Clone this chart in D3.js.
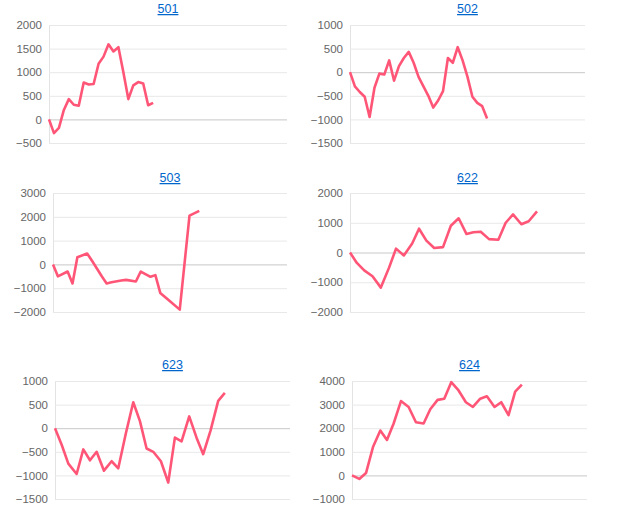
<!DOCTYPE html>
<html><head><meta charset="utf-8">
<script src="https://cdn.jsdelivr.net/npm/d3@7"></script>
<style>body{margin:0;background:#fff;font-family:Arial,"Liberation Sans",sans-serif}</style>
</head><body><svg id="c" width="618" height="531"></svg>
<script>
const names = ["501","502","503","622","623","624"];
const days501 = d3.range(22);
const vals501 = [0,-290,-180,200,430,310,290,780,740,750,1180,1330,1590,1440,1530,1000,430,720,790,760,300,350];
const days502 = d3.range(29);
const vals502 = [0,-300,-420,-520,-950,-330,-30,-50,250,-180,130,300,430,200,-100,-300,-500,-750,-600,-400,300,200,530,250,-100,-520,-650,-720,-980];
const days503 = [0,1,3,4,5,7,8,10,11,12,14,15,17,18,20,21,22,24,26,28,30];
const vals503 = [0,-500,-300,-800,300,460,150,-500,-800,-750,-680,-650,-720,-300,-520,-450,-1200,-1550,-1900,2050,2250];
const days622 = [0,1.4,2.9,4.6,6.3,8,9.4,11,12.7,14.1,15.6,17.2,19,20.6,22.2,23.8,25.2,26.7,28.4,30.3,31.8,33.3,35,36.5,38.2];
const vals622 = [0,-350,-600,-800,-1180,-500,130,-100,300,800,400,150,180,900,1150,620,680,700,450,430,1000,1280,950,1050,1380];
const xs623 = [165,185,205,230,250,270,290,312,335,355,378,400,420,440,460,483,505,525,545,568,590,610,632,655,675];
const days623 = xs623.map(x => (x-165)/14.7);
const vals623 = [0,-350,-750,-970,-450,-680,-500,-900,-700,-850,-100,550,150,-430,-500,-700,-1150,-200,-280,250,-200,-550,-50,580,750];
const xs624 = [155,177,197,218,240,260,280,302,325,347,370,390,412,432,453,475,497,518,540,560,583,603,625,645,665];
const days624 = xs624.map(x => (x-155)/14.7);
const vals624 = [0,-150,100,1200,1900,1500,2200,3150,2900,2250,2200,2800,3200,3250,3950,3600,3100,2900,3250,3350,2900,3100,2550,3550,3850];
const ticks501 = [-500,0,500,1000,1500,2000];
const ticks502 = [-1500,-1000,-500,0,500,1000];
const ticks503 = [-2000,-1000,0,1000,2000,3000];
const ticks622 = [-2000,-1000,0,1000,2000];
const ticks623 = [-1500,-1000,-500,0,500,1000];
const ticks624 = [-1000,0,1000,2000,3000,4000];

const panels = [
 {name:names[0],d:days501,v:vals501,t:ticks501,x0:49,x1:287,y0:25,y1:143,ty:13},
 {name:names[1],d:days502,v:vals502,t:ticks502,x0:350,x1:585,y0:25,y1:143,ty:13},
 {name:names[2],d:days503,v:vals503,t:ticks503,x0:53,x1:287,y0:193,y1:312,ty:182},
 {name:names[3],d:days622,v:vals622,t:ticks622,x0:350,x1:585,y0:193,y1:312,ty:182},
 {name:names[4],d:days623,v:vals623,t:ticks623,x0:55,x1:290,y0:381,y1:499,ty:369},
 {name:names[5],d:days624,v:vals624,t:ticks624,x0:352,x1:587,y0:381,y1:499,ty:369}
];
const svg = d3.select("#c");
panels.forEach(p => {
  const g = svg.append("g");
  const x = d3.scaleLinear().domain([0,48]).range([p.x0,p.x1]);
  const y = d3.scaleLinear().domain([p.t[0],p.t[p.t.length-1]]).range([p.y1,p.y0]);
  const ax = g.append("g").attr("transform",`translate(${p.x0},0)`)
    .call(d3.axisLeft(y).tickValues(p.t).tickSize(-(p.x1-p.x0)).tickPadding(7).tickFormat(d3.format("d")));
  ax.select(".domain").attr("stroke","#e3e3e3");
  ax.selectAll(".tick line").attr("stroke", d => d===0 ? "#c8c8c8" : "#e8e8e8");
  ax.selectAll(".tick text").attr("fill","#666").attr("font-size","11.5px").attr("font-family","Arial,'Liberation Sans',sans-serif");
  g.append("text").attr("x",(p.x0+p.x1)/2).attr("y",p.ty).attr("text-anchor","middle")
    .attr("fill","#0066cc").attr("font-size","12.5px").attr("text-decoration","underline").text(p.name);
  g.append("path").datum(p.d.map((d,i)=>[d,p.v[i]]))
    .attr("fill","none").attr("stroke","#ff5577").attr("stroke-width",2.6).attr("stroke-linejoin","round")
    .attr("d", d3.line().x(d=>x(d[0])).y(d=>y(d[1])));
});
</script></body></html>
